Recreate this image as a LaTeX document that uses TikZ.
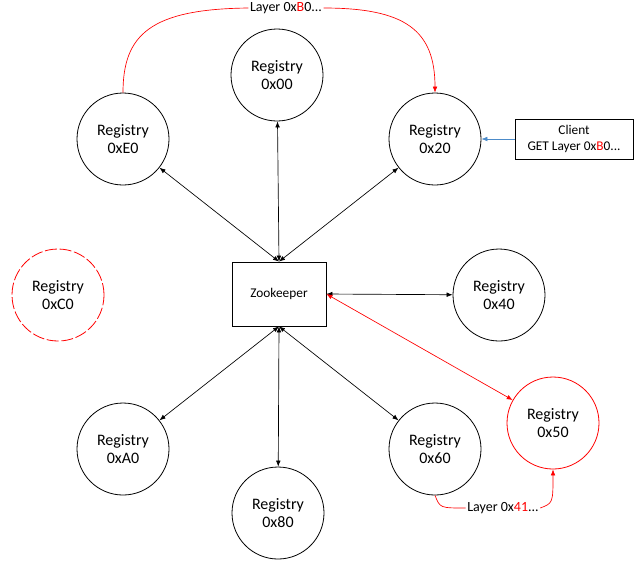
\documentclass[tikz,border=0pt]{standalone}
\usepackage{fontspec}
\setmainfont{Carlito}
\usetikzlibrary{arrows.meta}

\tikzset{
  registry/.style={circle, draw, line width=0.6pt, minimum size=69pt, inner sep=0pt,
    align=center, font=\fontsize{12}{14}\selectfont},
  keeper/.style={rectangle, draw, line width=0.6pt, minimum width=70.5pt, minimum height=48pt,
    align=center, font=\fontsize{10}{12}\selectfont},
  layer/.style={inner sep=1pt, fill=white, font=\fontsize{10.5}{12}\selectfont},
  link/.style={<->, line width=0.5pt},
}

\begin{document}
\begin{tikzpicture}[x=0.75pt, y=-0.75pt, >={Latex[length=4.5pt,width=3.5pt]}]
  % 画布
  \useasboundingbox (0,0) rectangle (641,562);

  % Zookeeper 与客户端
  \node[keeper] (zk) at (279,294) {Zookeeper};
  \node[keeper, minimum width=88.5pt, minimum height=30pt] (client) at (574,139)
    {Client\\GET Layer 0x\textcolor{red}{B}0...};

  % Registry 节点
  \node[registry] (r00) at (277,75) {Registry\\0x00};
  \node[registry] (rE0) at (123,139) {Registry\\0xE0};
  \node[registry] (r20) at (435,139) {Registry\\0x20};
  \node[registry] (r40) at (499,295) {Registry\\0x40};
  \node[registry] (rA0) at (123,449) {Registry\\0xA0};
  \node[registry] (r60) at (435,449) {Registry\\0x60};
  \node[registry] (r80) at (278,513) {Registry\\0x80};
  % 失效节点与新节点
  \node[registry, draw=red, dashed, dash pattern=on 9pt off 2pt] (rC0) at (58,295) {Registry\\0xC0};
  \node[registry, draw=red] (r50) at (553,423) {Registry\\0x50};

  % Zookeeper 连线
  \foreach \r in {r00, rE0, r20}
    \draw[link] (zk.north) -- (\r);
  \foreach \r in {rA0, r80, r60}
    \draw[link] (zk.south) -- (\r);
  \draw[link] (zk.east) -- (r40);
  \draw[link, red] (zk.east) -- (r50);

  % 客户端请求
  \draw[->, line width=0.5pt, color=blue!50!cyan!70!black!70] (client) -- (r20);

  % 数据复制
  \node[layer] (lB0) at (286,8) {Layer 0x\textcolor{red}{B}0...};
  \draw[red, line width=0.5pt] (rE0.north) .. controls (123,35) and (150,9) .. (lB0.west);
  \draw[red, line width=0.5pt, ->] (lB0.east) .. controls (405,8) and (435,30) .. (r20.north);
  \node[layer] (l41) at (503,508) {Layer 0x\textcolor{red}{41}...};
  \draw[red, line width=0.5pt] (r60.south) .. controls (440,508) .. (l41.west);
  \draw[red, line width=0.5pt, ->] (l41.east) .. controls (553,503) .. (r50.south);
\end{tikzpicture}
\end{document}
